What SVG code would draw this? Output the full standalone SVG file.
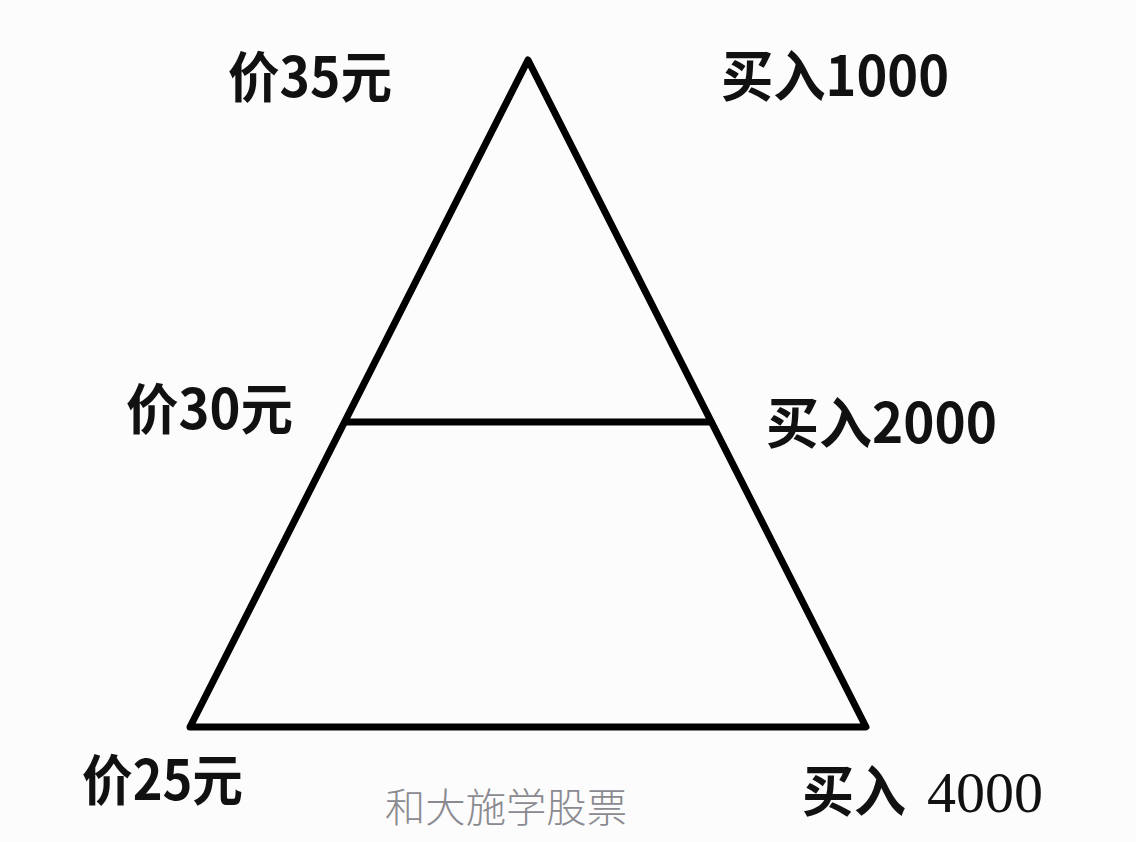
<svg xmlns="http://www.w3.org/2000/svg" width="1136" height="842" viewBox="0 0 1136 842">
<style>
.lbl{font-family:"Noto Sans CJK SC","Noto Sans",sans-serif;font-weight:bold;fill:#111;font-size:55px}
.num{font-family:"Liberation Serif","Noto Sans CJK SC",serif;font-weight:normal;fill:#111;font-size:58px}
.wm{font-family:"Noto Sans CJK SC",sans-serif;font-weight:300;fill:#8a8a90;font-size:40px}
.ln{fill:none;stroke:#000;stroke-width:7;stroke-linejoin:round;stroke-linecap:round}
</style>
<rect width="1136" height="842" fill="#fcfcfd"/>
<g id="pyramid">
<polygon class="ln" points="528,60 866,727 190,727"/>
</g>
<g id="connectors">
<line class="ln" x1="346" y1="422" x2="711" y2="422"/>
</g>
<g id="label-price35"><text class="lbl" x="228" y="97" textLength="164" lengthAdjust="spacingAndGlyphs">价35元</text></g>
<g id="label-buy1000"><text class="lbl" x="721" y="96" textLength="228" lengthAdjust="spacingAndGlyphs">买入1000</text></g>
<g id="label-price30"><text class="lbl" x="126" y="429" textLength="167" lengthAdjust="spacingAndGlyphs">价30元</text></g>
<g id="label-buy2000"><text class="lbl" x="766" y="443" textLength="231" lengthAdjust="spacingAndGlyphs">买入2000</text></g>
<g id="label-price25"><text class="lbl" x="82" y="800" textLength="161" lengthAdjust="spacingAndGlyphs">价25元</text></g>
<g id="label-buy4000"><text class="lbl" x="802" y="811" textLength="104" lengthAdjust="spacingAndGlyphs">买入</text><text class="num" x="927" y="812">4000</text></g>
<g id="watermark"><text class="wm" x="385" y="822" textLength="242" lengthAdjust="spacingAndGlyphs">和大施学股票</text></g>
</svg>
